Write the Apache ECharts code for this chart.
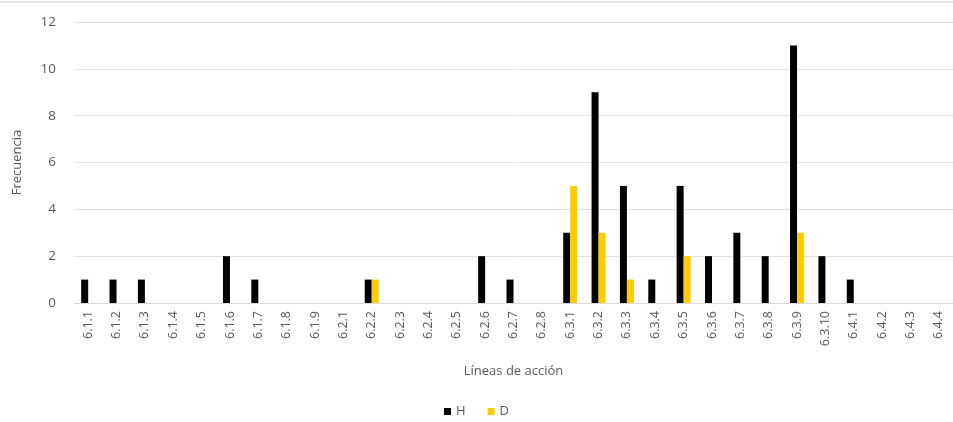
<!DOCTYPE html>
<html><head><meta charset="utf-8">
<script src="https://cdn.jsdelivr.net/npm/echarts@6/dist/echarts.min.js"></script>
<style>html,body{margin:0;padding:0;background:#fff}#c{width:953px;height:422px}</style>
</head><body><div id="c"></div>
<script>
const categories = ["6.1.1","6.1.2","6.1.3","6.1.4","6.1.5","6.1.6","6.1.7","6.1.8","6.1.9","6.2.1","6.2.2","6.2.3","6.2.4","6.2.5","6.2.6","6.2.7","6.2.8","6.3.1","6.3.2","6.3.3","6.3.4","6.3.5","6.3.6","6.3.7","6.3.8","6.3.9","6.3.10","6.4.1","6.4.2","6.4.3","6.4.4"];
const seriesH = [1,1,1,0,0,2,1,0,0,0,1,0,0,0,2,1,0,3,9,5,1,5,2,3,2,11,2,1,0,0,0];
const seriesD = [0,0,0,0,0,0,0,0,0,0,1,0,0,0,0,0,0,5,3,1,0,2,0,0,0,3,0,0,0,0,0];
const yTicks = {min:0, max:12, interval:2};

const chart = echarts.init(document.getElementById('c'));
const font = '"Open Sans", "DejaVu Sans", sans-serif';
chart.setOption({
  animation:false,
  graphic:[{type:'line', shape:{x1:0,y1:2,x2:953,y2:2}, style:{stroke:'#d9d9d9', lineWidth:1.5}}],
  grid:{left:74, right:-2, top:22, bottom:119},
  legend:{bottom:-1, left:'center', itemWidth:7, itemHeight:7, itemGap:22,
    textStyle:{color:'#595959', fontFamily:font, fontSize:13},
    data:[{name:'H', icon:'rect'},{name:'D', icon:'rect'}]},
  xAxis:{type:'category', data:categories, name:'Líneas de acción', nameLocation:'middle', nameGap:62,
    nameTextStyle:{color:'#595959', fontFamily:font, fontSize:13},
    axisLine:{lineStyle:{color:'#d9d9d9'}}, axisTick:{show:false},
    axisLabel:{rotate:90, interval:0, color:'#595959', fontFamily:font, fontSize:12.5, margin:8}},
  yAxis:{type:'value', min:yTicks.min, max:yTicks.max, interval:yTicks.interval,
    name:'Frecuencia', nameLocation:'middle', nameGap:50,
    nameTextStyle:{color:'#595959', fontFamily:font, fontSize:13},
    axisLine:{show:false}, axisTick:{show:false},
    axisLabel:{color:'#595959', fontFamily:font, fontSize:13.5, margin:18},
    splitLine:{lineStyle:{color:'#e3e3e3', width:1}}},
  series:[
    {name:'H', type:'bar', data:seriesH, barWidth:7, barGap:'0%', itemStyle:{color:'#000000'}},
    {name:'D', type:'bar', data:seriesD, barWidth:7, itemStyle:{color:'#FFCC00'}}
  ]
});
</script></body></html>
